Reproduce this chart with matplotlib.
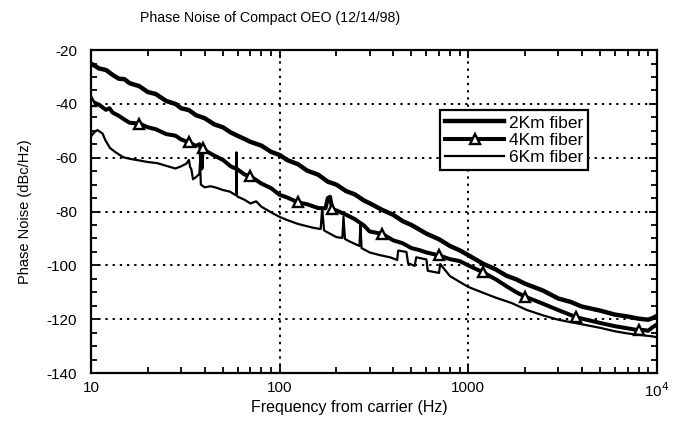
import matplotlib
matplotlib.use("Agg")
import matplotlib.pyplot as plt
from matplotlib.ticker import FixedLocator, NullFormatter, MultipleLocator

plt.rcParams['font.family'] = ['Liberation Sans', 'DejaVu Sans']

title = "Phase Noise of Compact OEO (12/14/98)"
xlabel = "Frequency from carrier (Hz)"
ylabel = "Phase Noise (dBc/Hz)"
labels = ["2Km fiber", "4Km fiber", "6Km fiber"]

f_2km = [10, 11, 12, 13, 14, 15, 16, 18, 20, 22, 25, 28, 30, 33, 36, 40, 45, 50, 55, 60,
         65, 70, 80, 90, 100, 110, 125, 140, 160, 180, 200, 225, 250, 280, 300, 350, 400,
         450, 500, 600, 700, 800, 900, 1000, 1200, 1400, 1600, 1800, 2000, 2500, 3000,
         3500, 4000, 5000, 6000, 7000, 8000, 9000, 9500, 10000]
db_2km = [-25, -26.8, -27.4, -29.2, -30.6, -30.8, -32.3, -33.4, -35.6, -36.3, -38.9, -40.0,
          -41.6, -42.3, -44.2, -45.3, -47.6, -48.7, -50.6, -51.9, -53.0, -54.1, -55.5, -57.8,
          -59.0, -60.9, -62.4, -64.8, -66.3, -68.9, -70.0, -72.4, -73.6, -75.9, -76.9, -79.4,
          -81.2, -83.6, -85.0, -88.2, -90.3, -92.8, -94.4, -96.2, -99.4, -101.5, -103.9,
          -105.2, -106.8, -109.4, -112.3, -113.6, -115.3, -116.8, -118.3, -119.0, -119.8,
          -120.2, -119.6, -118.8]

f_4km = [10, 11, 12, 12.5, 13, 14, 15, 16, 18, 20, 22, 25, 28, 30, 33, 36, 37.5, 38, 38.5,
         39, 40, 45, 50, 55, 60, 65, 70, 80, 90, 100, 110, 125, 140, 160, 175, 180, 185,
         190, 200, 225, 250, 280, 300, 350, 400, 450, 500, 550, 600, 700, 800, 900, 1000,
         1200, 1400, 1600, 1800, 2000, 2500, 3000, 3750, 5000, 6000, 7000, 8000, 8500,
         9000, 9500, 10000]
db_4km = [-39, -40.3, -42.2, -41.6, -43.2, -44.4, -45.8, -47.0, -47.3, -48.7, -49.4, -51.2,
          -51.8, -53.2, -54.3, -55.6, -55.0, -56.0, -64.0, -56.5, -57.2, -59.2, -60.8,
          -63.2, -64.4, -66.2, -66.9, -69.6, -71.3, -73.8, -74.8, -76.6, -77.3, -78.7,
          -78.8, -75.0, -74.5, -79.2, -79.6, -81.2, -82.8, -85.2, -87.4, -88.3, -90.7,
          -91.8, -93.6, -94.3, -95.2, -96.3, -97.7, -98.4, -100.0, -102.6, -105.2, -107.8,
          -110.0, -111.6, -114.3, -116.6, -119.3, -121.4, -122.6, -123.4, -124.1, -124.0,
          -124.3, -123.0, -122.0]

f_6km = [10, 10.4, 10.8, 11.5, 11.9, 12.6, 13.5, 14.8, 16, 18, 20, 22.4, 25, 28, 30, 32,
         33, 33.5, 34, 34.7, 36, 37.5, 37.8, 38.2, 40, 43, 46.5, 50, 54.5, 58, 58.8, 59,
         59.3, 60, 65, 70, 75, 80, 90, 100, 110, 125, 150, 165, 168, 172, 180, 200, 215,
         218, 222, 230, 250, 265, 268, 272, 300, 340, 385, 420, 425, 470, 480, 520, 530,
         600, 610, 700, 710, 800, 1000, 1200, 1400, 1700, 2050, 2500, 3000, 3750, 5000,
         6000, 7000, 8500, 9500, 10000]
db_6km = [-52, -50.5, -49.7, -51.0, -53.5, -56.4, -58.0, -59.8, -60.4, -61.0, -61.6, -62.0,
          -63.0, -64.0, -63.2, -62.2, -60.8, -63.5, -64.2, -68.0, -67.2, -66.0, -62.0,
          -70.0, -71.0, -70.6, -71.2, -72.0, -72.6, -73.8, -73.5, -58.0, -74.2, -74.5,
          -75.6, -77.0, -76.2, -78.2, -80.3, -82.0, -83.2, -84.6, -86.0, -86.5, -79.0,
          -87.0, -87.8, -89.5, -89.8, -82.0, -90.2, -90.8, -92.0, -92.8, -85.0, -93.6,
          -95.2, -96.2, -97.0, -98.0, -94.5, -95.0, -99.2, -100.2, -97.0, -97.8, -102.0,
          -102.8, -99.5, -104.0, -108.0, -110.2, -112.0, -114.0, -116.6, -118.6, -120.2,
          -121.5, -123.2, -124.5, -125.3, -126.0, -126.4, -126.7]

xticks = [10, 100, 1000, 10000]
xticklabels = ["10", "100", "1000", r"10$^4$"]
yticks = [-140, -120, -100, -80, -60, -40, -20]

fig = plt.figure(figsize=(6.75, 4.21), dpi=100)
ax = fig.add_axes([0.135, 0.114, 0.838, 0.767])

ax.plot(f_2km, db_2km, color='black', lw=3.2, label=labels[0], solid_joinstyle='round')
ax.plot(f_4km, db_4km, color='black', lw=2.9, marker='^', markersize=7.5,
        markerfacecolor='white', markeredgecolor='black', markeredgewidth=1.7,
        markevery=0.085, label=labels[1], solid_joinstyle='round')
ax.plot(f_6km, db_6km, color='black', lw=1.6, label=labels[2])

ax.set_xscale('log')
ax.set_xlim(10, 10000)
ax.set_ylim(-140, -20)
ax.xaxis.set_major_locator(FixedLocator(xticks))
ax.set_xticklabels(xticklabels)
ax.xaxis.set_minor_locator(FixedLocator([m * 10**e for e in (1, 2, 3) for m in range(2, 10)]))
ax.xaxis.set_minor_formatter(NullFormatter())
ax.set_yticks(yticks)
ax.set_yticklabels([str(v) for v in yticks])
ax.yaxis.set_minor_locator(MultipleLocator(5))

ax.tick_params(which='both', direction='in', top=True, right=True, labelsize=11,
               width=1.3)
ax.tick_params(which='major', length=6)
ax.tick_params(which='minor', length=4)
ax.tick_params(axis='x', pad=6)
ax.tick_params(axis='y', pad=10)

for s in ax.spines.values():
    s.set_linewidth(1.6)

ax.grid(True, which='major', color='black', linestyle=(0, (1.2, 2.5)), linewidth=1.4)

fig.text(0.40, 0.957, title, fontsize=10.2, ha='center', va='center')
ax.set_xlabel(xlabel, fontsize=11.5, labelpad=0)
ax.xaxis.set_label_coords(0.457, -0.085)
ax.set_ylabel(ylabel, fontsize=10.5)
ax.yaxis.set_label_coords(-0.105, 0.5)

leg = ax.legend(loc='upper left', bbox_to_anchor=(0.617, 0.814), frameon=True,
                fancybox=False, edgecolor='black', fontsize=12.5, handlelength=3.4,
                borderpad=0.3, labelspacing=0.12, handletextpad=0.25, borderaxespad=0)
leg.get_frame().set_linewidth(1.6)
leg.get_frame().set_alpha(1)

fig.savefig("out.png", dpi=100)
